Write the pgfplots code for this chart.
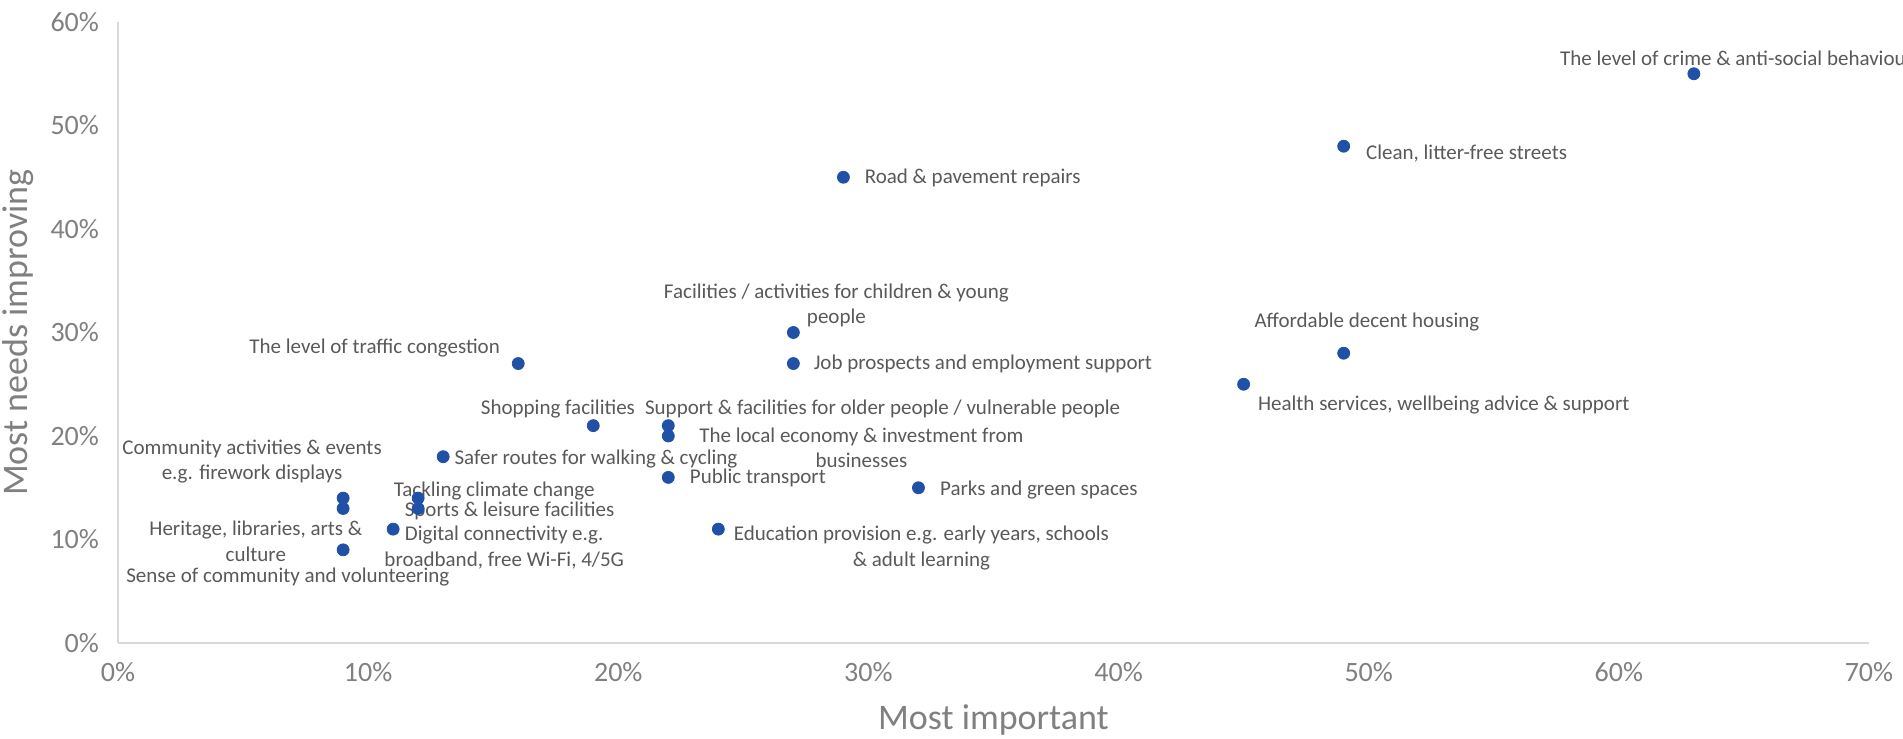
\documentclass[border=0pt]{standalone}
\usepackage{fontspec}
\setmainfont{Carlito}
\usepackage{pgfplots}
\usepackage{pgfplotstable}
\pgfplotsset{compat=1.18}
\usetikzlibrary{calc}

\definecolor{dotblue}{RGB}{33,81,166}
\definecolor{lblgray}{RGB}{89,89,89}
\definecolor{tickgray}{RGB}{128,128,128}
\definecolor{axgray}{RGB}{217,217,217}

\tikzset{lbl/.style={font=\fontsize{10.5}{12.75}\selectfont, text=lblgray, inner sep=0pt, align=center}}

% most important (x, %) / most needs improving (y, %)
\pgfplotstableread{
x  y
63 55
49 48
29 45
27 30
27 27
16 27
49 28
45 25
19 21
22 21
22 20
13 18
22 16
32 15
9  14
9  13
12 14
12 13
11 11
24 11
9  9
}\pts

\begin{document}
\begin{tikzpicture}
\begin{axis}[
    scale only axis,
    width=875.5pt, height=310.5pt,
    xmin=0, xmax=70, ymin=0, ymax=60,
    axis lines*=left,
    axis line style={axgray, line width=1pt},
    xtick={0,10,...,70}, ytick={0,10,...,60},
    major tick length=0pt,
    /pgf/number format/assume math mode=true,
    xticklabel={\pgfmathprintnumber{\tick}\%},
    yticklabel={\pgfmathprintnumber{\tick}\%},
    ticklabel style={font=\fontsize{14}{16}\selectfont, text=tickgray},
    xticklabel style={yshift=-6pt},
    yticklabel style={xshift=-6pt},
    clip=false,
]
\coordinate (o) at (rel axis cs:0,0);

\addplot[only marks, mark=*, mark size=3pt, dotblue] table {\pts};

\node[lbl, anchor=west] at (axis cs:57.64,56.5) {The level of crime \& anti-social behaviour};
\node[lbl, anchor=west] at (axis cs:49.88,47.3) {Clean, litter-free streets};
\node[lbl, anchor=west] at (axis cs:29.84,44.9) {Road \& pavement repairs};
\node[lbl] at (axis cs:28.72,32.64) {Facilities / activities for children \& young\\people};
\node[lbl, anchor=east] at (axis cs:15.28,28.48) {The level of traffic congestion};
\node[lbl] at (axis cs:49.93,31.06) {Affordable decent housing};
\node[lbl, anchor=west] at (axis cs:27.8,26.95) {Job prospects and employment support};
\node[lbl, anchor=west] at (axis cs:45.56,22.97) {Health services, wellbeing advice \& support};
\node[lbl] at (axis cs:17.59,22.62) {Shopping facilities};
\node[lbl] at (axis cs:30.57,22.62) {Support \& facilities for older people / vulnerable people};
\node[lbl] at (axis cs:29.72,18.87) {The local economy \& investment from\\businesses};
\node[lbl, anchor=west] at (axis cs:13.44,17.81) {Safer routes for walking \& cycling};
\node[lbl] at (axis cs:5.36,17.52) {Community activities \& events\\e.g. firework displays};
\node[lbl, anchor=west] at (axis cs:22.85,15.94) {Public transport};
\node[lbl, anchor=west] at (axis cs:32.85,14.77) {Parks and green spaces};
\node[lbl, anchor=west] at (axis cs:11.01,14.65) {Tackling climate change};
\node[lbl, anchor=west] at (axis cs:11.45,12.77) {Sports \& leisure facilities};
\node[lbl] at (axis cs:5.51,9.84) {Heritage, libraries, arts \&\\culture};
\node[lbl] at (axis cs:15.44,9.2) {Digital connectivity e.g.\\broadband, free Wi-Fi, 4/5G};
\node[lbl] at (axis cs:32.12,9.2) {Education provision e.g. early years, schools\\\& adult learning};
\node[lbl] at (axis cs:6.79,6.33) {Sense of community and volunteering};

% axis titles
\node[font=\fontsize{18}{20}\selectfont, text=tickgray, rotate=90]
    at ([xshift=-50pt]rel axis cs:0,0.5) {Most needs improving};
\node[font=\fontsize{18}{20}\selectfont, text=tickgray]
    at ([yshift=-38.5pt]rel axis cs:0.5,0) {Most important};
\end{axis}
\pgfresetboundingbox
\path[use as bounding box] ($(o)+(-59pt,-48pt)$) rectangle ($(o)+(892.5pt,321.5pt)$);
\end{tikzpicture}
\end{document}
